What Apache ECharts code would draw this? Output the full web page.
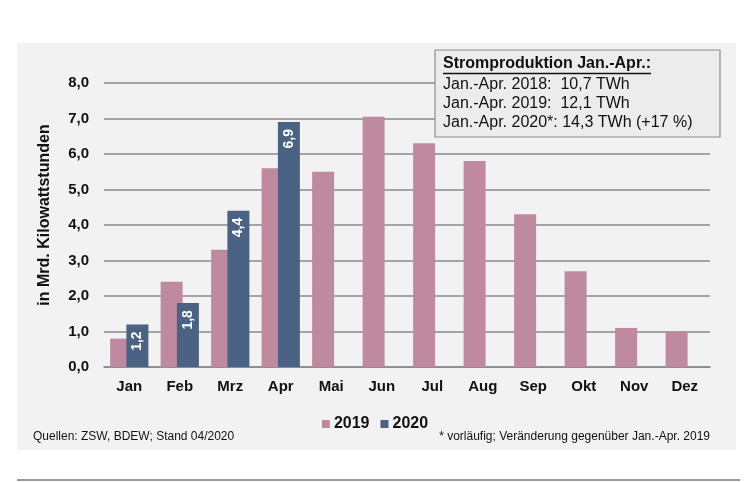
<!DOCTYPE html>
<html>
<head>
<meta charset="utf-8">
<script src="https://cdn.jsdelivr.net/npm/echarts@6/dist/echarts.min.js"></script>
<style>
html,body{margin:0;padding:0;background:#fff;}
#c{width:750px;height:482px;}
</style>
</head>
<body>
<div id="c"></div>
<script>
var months = ['Jan','Feb','Mrz','Apr','Mai','Jun','Jul','Aug','Sep','Okt','Nov','Dez'];
var values2019 = [0.8, 2.4, 3.3, 5.6, 5.5, 7.05, 6.3, 5.8, 4.3, 2.7, 1.1, 1.0];
var values2020 = [1.2, 1.8, 4.4, 6.9, null, null, null, null, null, null, null, null];
var seriesNames = ['2019', '2020'];
var yTitle = 'in Mrd. Kilowattstunden';
var boxLines = ['Stromproduktion Jan.-Apr.:', 'Jan.-Apr. 2018:  10,7 TWh', 'Jan.-Apr. 2019:  12,1 TWh', 'Jan.-Apr. 2020*: 14,3 TWh (+17 %)'];
var sourceText = 'Quellen: ZSW, BDEW; Stand 04/2020';
var noteText = '* vorläufig; Veränderung gegenüber Jan.-Apr. 2019';

var fmt = function (v) { return Number(v).toFixed(1).replace('.', ','); };
var FONT = 'Liberation Sans, Arial, sans-serif';
var NARROW = 'Liberation Sans Narrow, Arial Narrow, Liberation Sans, sans-serif';

var chart = echarts.init(document.getElementById('c'));
chart.setOption({
  backgroundColor: '#ffffff',
  animation: false,
  grid: { left: 104, right: 40, top: 83, bottom: 115 },
  legend: {
    data: seriesNames,
    left: 'center',
    top: 411,
    itemWidth: 8,
    itemHeight: 8,
    itemGap: 11,
    icon: 'rect',
    textStyle: { fontFamily: FONT, fontWeight: 'bold', fontSize: 16, color: '#111', padding: [0, 0, 0, -1] }
  },
  xAxis: {
    type: 'category',
    data: months,
    axisLine: { lineStyle: { color: '#888', width: 1.5 } },
    axisTick: { show: false },
    axisLabel: { fontFamily: FONT, fontWeight: 'bold', fontSize: 15, color: '#111', margin: 12 }
  },
  yAxis: {
    type: 'value',
    min: 0,
    max: 8,
    interval: 1,
    axisLine: { show: false },
    axisTick: { show: false },
    splitLine: { lineStyle: { color: '#8a8a8a', width: 1.5 } },
    axisLabel: { formatter: fmt, fontFamily: FONT, fontWeight: 'bold', fontSize: 15, color: '#111', margin: 15 }
  },
  graphic: [
    { type: 'rect', z: -10, shape: { x: 17, y: 43, width: 719, height: 407 }, style: { fill: '#f2f2f2' }, silent: true },
    { type: 'text', x: 45, y: 215, rotation: Math.PI / 2, style: { text: yTitle, font: 'bold 16px ' + FONT, fill: '#111', align: 'center', verticalAlign: 'middle' } },
    { type: 'rect', z: 10, shape: { x: 435, y: 50, width: 285, height: 87 }, style: { fill: '#ececec', stroke: '#8c8c8c', lineWidth: 1.2 } },
    { type: 'text', z: 11, left: 443, top: 56, style: { text: boxLines[0], font: 'bold 16px ' + FONT, fill: '#111' } },
    { type: 'line', z: 11, shape: { x1: 443, y1: 73.5, x2: 651, y2: 73.5 }, style: { stroke: '#111', lineWidth: 1.3 } },
    { type: 'text', z: 11, left: 443, top: 77, style: { text: boxLines[1], font: '16px ' + FONT, fill: '#111' } },
    { type: 'text', z: 11, left: 443, top: 96, style: { text: boxLines[2], font: '16px ' + FONT, fill: '#111' } },
    { type: 'text', z: 11, left: 443, top: 114.5, style: { text: boxLines[3], font: '16px ' + FONT, fill: '#111' } },
    { type: 'text', left: 33, top: 431, style: { text: sourceText, font: '12px ' + NARROW, fill: '#111' } },
    { type: 'text', right: 40, top: 431, style: { text: noteText, font: '12px ' + NARROW, fill: '#111' } },
    { type: 'line', shape: { x1: 17, y1: 480, x2: 740, y2: 480 }, style: { stroke: '#7a7a7a', lineWidth: 1.5 } }
  ],
  series: [
    {
      name: seriesNames[0],
      type: 'bar',
      data: values2019,
      barWidth: 22,
      barGap: '-26%',
      itemStyle: { color: '#bf8aa0' }
    },
    {
      name: seriesNames[1],
      type: 'bar',
      data: values2020,
      barWidth: 22,
      itemStyle: { color: '#4a6385' },
      label: {
        show: true,
        position: 'insideTop',
        rotate: 90,
        align: 'right',
        verticalAlign: 'middle',
        distance: 7,
        formatter: function (p) { return fmt(p.value); },
        fontFamily: FONT,
        fontWeight: 'bold',
        fontSize: 14,
        color: '#ffffff'
      }
    }
  ]
});
</script>
</body>
</html>
